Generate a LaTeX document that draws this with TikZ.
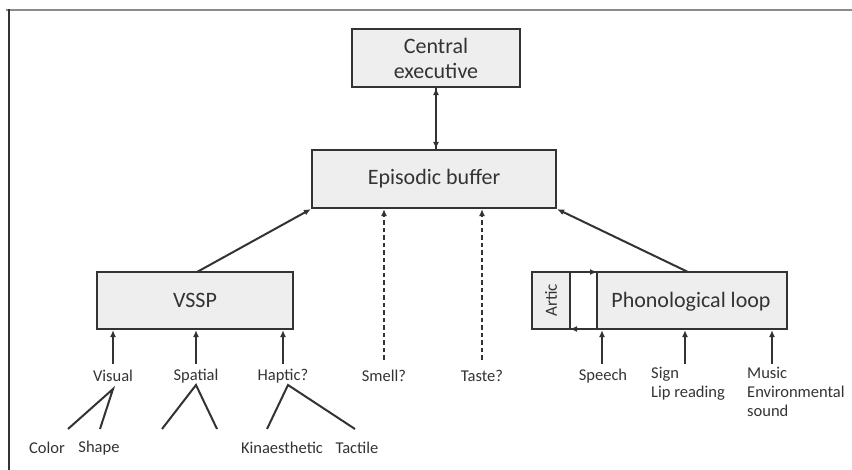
\documentclass[tikz,border=0pt]{standalone}
\usepackage{fontspec}
\setmainfont{Carlito}
\usetikzlibrary{arrows.meta}
\definecolor{ink}{HTML}{333333}
\definecolor{boxfill}{HTML}{EEEEEE}
\tikzset{
  x=1pt, y=-1pt,
  box/.style={draw=ink, line width=2.2pt, fill=boxfill, inner sep=0pt,
    font=\fontsize{22}{25}\selectfont, text=ink, align=center},
  lbl/.style={font=\fontsize{16.5}{19}\selectfont, text=ink, inner sep=0pt},
  tip/.style={-{Latex[length=7pt,width=6pt]}},
  conn/.style={draw=ink, line width=2pt},
  dashconn/.style={conn, dash pattern=on 4.5pt off 3pt}
}
\begin{document}
\begin{tikzpicture}
\useasboundingbox (0,0) rectangle (852,470);
% frame edges
\draw[color=gray!90, line width=2.5pt] (6,10) -- (852,10);
\draw[color=ink, line width=2pt] (9,9) -- (9,470);

% main boxes
\node[box, minimum width=168pt, minimum height=58pt] (ce) at (436,58) {Central\\executive};
\node[box, minimum width=244pt, minimum height=58pt] (eb) at (434,179) {Episodic buffer};
\node[box, minimum width=196pt, minimum height=57pt] (vssp) at (195,300.5) {VSSP};
\node[box, minimum width=255pt, minimum height=57pt] (pl) at (659.5,300.5) {};
\node[font=\fontsize{22}{25}\selectfont, text=ink] (pltext) at (691,302) {Phonological loop};

% articulatory rehearsal strip
\coordinate (a1) at (570,272);
\coordinate (a2) at (597,272);
\coordinate (a3) at (597,329);
\coordinate (a4) at (570,329);
\fill[white] (571,273) rectangle (596,328);
\draw[conn, line width=2.2pt] (a1) -- (a4);
\draw[conn, line width=2.2pt] (a2) -- (a3);
\draw[conn, tip] (a1) -- (a2);
\draw[conn, tip] (a3) -- (a4);
\node[lbl, font=\fontsize{17}{19}\selectfont, rotate=90] (artic) at (551,300.5) {Artic};

% links to the episodic buffer
\draw[conn, tip] (ce.south) -- (eb.north -| ce.south);
\draw[conn, tip] (eb.north -| ce.south) -- (ce.south);
\coordinate (vtop) at (197,272);
\coordinate (ptop) at (688,272);
\draw[conn, tip] (vtop) -- (eb.south west);
\draw[conn, tip] (ptop) -- (eb.south east);

% smell and taste
\node[lbl] (smell) at (384,376) {Smell?};
\node[lbl] (taste) at (482,376) {Taste?};
\coordinate (s0) at (384,360);
\coordinate (t0) at (482,360);
\draw[dashconn, tip] (s0) -- (s0 |- eb.south);
\draw[dashconn, tip] (t0) -- (t0 |- eb.south);

% visuospatial inputs
\node[lbl] (visual) at (113,376) {Visual};
\node[lbl] (spatial) at (196,376) {Spatial};
\node[lbl] (haptic) at (283,376) {Haptic?};
\foreach \n/\x in {visual/113, spatial/196, haptic/283}{
  \coordinate (\n0) at (\x,364);
  \draw[conn, tip] (\n0) -- (\n0 |- vssp.south);
}

% sub-features
\node[lbl] (color) at (47,448) {Color};
\node[lbl] (shape) at (99,448) {Shape};
\node[lbl] (kin) at (282,448) {Kinaesthetic};
\node[lbl] (tactile) at (357,448) {Tactile};
\coordinate (vA) at (113,389);
\coordinate (vL) at (68,429);
\coordinate (vR) at (100,429);
\coordinate (sA) at (196,385);
\coordinate (sL) at (162,429);
\coordinate (sR) at (217,429);
\coordinate (hA) at (288,385);
\coordinate (hL) at (267,429);
\coordinate (hR) at (355,429);
\draw[conn] (vL) -- (vA) -- (vR);
\draw[conn] (sL) -- (sA) -- (sR);
\draw[conn] (hL) -- (hA) -- (hR);

% phonological inputs
\node[lbl] (speech) at (603,376) {Speech};
\node[lbl, anchor=north west, align=left] (sign) at (651,367) {Sign\\Lip reading};
\node[lbl, anchor=north west, align=left] (music) at (747,367) {Music\\Environmental\\sound};
\foreach \n/\x in {speech/602, sign/685, music/772}{
  \coordinate (\n0) at (\x,364);
  \draw[conn, tip] (\n0) -- (\n0 |- pl.south);
}
\end{tikzpicture}
\end{document}
